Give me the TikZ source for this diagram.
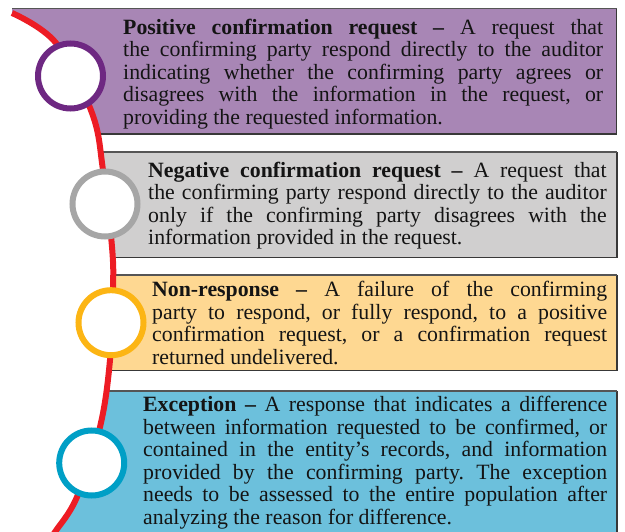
\documentclass[tikz,border=0pt]{standalone}
\usepackage{fontspec}
\setmainfont{Liberation Serif}
\frenchspacing

\definecolor{arcred}{HTML}{ED1C24}
\definecolor{posfill}{HTML}{A886B5}
\definecolor{posring}{HTML}{6E2882}
\definecolor{negfill}{HTML}{D0CFCF}
\definecolor{negring}{HTML}{A6A6A6}
\definecolor{nonfill}{HTML}{FED892}
\definecolor{nonring}{HTML}{FCB514}
\definecolor{excfill}{HTML}{6CC0DC}
\definecolor{excring}{HTML}{009FC6}
\definecolor{edge}{HTML}{383838}
\definecolor{topedge}{HTML}{555555}
\definecolor{ink}{HTML}{141414}

% one justified line of a given width
\newcommand\jline[2]{\makebox[#1][s]{#2}}

\tikzset{
  ring/.style={circle, fill=white, line width=6pt, minimum size=65pt, inner sep=0pt},
  boxedge/.style={draw=edge, line width=1.1pt},
  defn/.style={anchor=base west, inner sep=0pt, text=ink,
               font=\fontsize{21.8}{22.5}\selectfont}
}

\begin{document}
\begin{tikzpicture}[x=1pt, y=-1pt]
\useasboundingbox (0,0) rectangle (625,532);

% coloured bands, cut off on the left by the arc
\begin{scope}
  \clip (12,-10) -- plot[smooth, tension=0.6] coordinates {(12,13) (56,43) (92,113) (103,170) (112,247) (113,290) (110,360) (100,427) (77,497) (55,532) (48,542)} -- (48,560) -- (700,560) -- (700,-10) -- cycle;
  \fill[posfill] (0,8.3) rectangle (616.5,134);
  \fill[negfill] (0,152) rectangle (617,257.3);
  \fill[nonfill] (0,275) rectangle (617,370.7);
  \fill[excfill] (0,390.7) rectangle (617,560);
  \draw[boxedge] (0,134) -- (616.5,134) -- (616.5,8.3);
  \draw[boxedge] (0,257.3) -- (617,257.3) -- (617,152);
  \draw[boxedge] (0,370.7) -- (617,370.7) -- (617,275);
  \draw[boxedge] (617,560) -- (617,390.7);
  \draw[topedge, line width=1.4pt] (0,8.3) -- (616.5,8.3);
  \draw[topedge, line width=1.6pt] (0,152) -- (617,152);
  \draw[topedge, line width=1.6pt] (0,275) -- (617,275);
  \draw[topedge, line width=2.2pt] (0,390.7) -- (617,390.7);
\end{scope}

% the red arc
\draw[arcred, line width=6pt] plot[smooth, tension=0.6] coordinates {(12,13) (56,43) (92,113) (103,170) (112,247) (113,290) (110,360) (100,427) (77,497) (55,532) (48,542)};

% markers on the arc
\node[ring, draw=posring] (ringpos) at (70.5,76) {};
\node[ring, draw=negring] (ringneg) at (105,204) {};
\node[ring, draw=nonring] (ringnon) at (111,322.7) {};
\node[ring, draw=excring] (ringexc) at (91.7,463) {};

% definitions
\node[defn] (txtpos) at (123,34.3) {\begin{tabular}[t]{@{}l@{}}
\jline{480pt}{\textbf{Positive confirmation request –} A request that}\\
\jline{480pt}{the confirming party respond directly to the auditor}\\
\jline{480pt}{indicating whether the confirming party agrees or}\\
\jline{480pt}{disagrees with the information in the request, or}\\
providing the requested information.
\end{tabular}};

\node[defn] (txtneg) at (148,177.3) {\begin{tabular}[t]{@{}l@{}}
\jline{458.5pt}{\textbf{Negative confirmation request –} A request that}\\
\jline{458.5pt}{the confirming party respond directly to the auditor}\\
\jline{458.5pt}{only if the confirming party disagrees with the}\\
information provided in the request.
\end{tabular}};

\node[defn] (txtnon) at (152,296.8) {\begin{tabular}[t]{@{}l@{}}
\jline{455pt}{\textbf{Non-response –} A failure of the confirming}\\
\jline{455pt}{party to respond, or fully respond, to a positive}\\
\jline{455pt}{confirmation request, or a confirmation request}\\
returned undelivered.
\end{tabular}};

\node[defn] (txtexc) at (143,411.7) {\begin{tabular}[t]{@{}l@{}}
\jline{464pt}{\textbf{Exception –} A response that indicates a difference}\\
\jline{464pt}{between information requested to be confirmed, or}\\
\jline{464pt}{contained in the entity’s records, and information}\\
\jline{464pt}{provided by the confirming party. The exception}\\
\jline{464pt}{needs to be assessed to the entire population after}\\
analyzing the reason for difference.
\end{tabular}};
\end{tikzpicture}
\end{document}
